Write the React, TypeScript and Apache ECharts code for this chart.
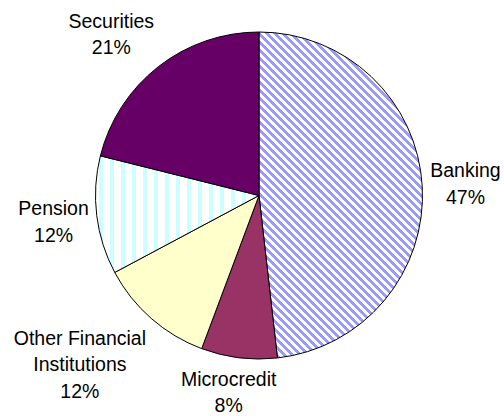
import React, { useEffect, useRef } from 'react';
import * as echarts from 'echarts';

const categories = ['Banking', 'Microcredit', 'Other Financial\nInstitutions', 'Pension', 'Securities'];
const shares = [48.2, 7.5, 11.5, 11.7, 21.1];
const percentLabels = ['47%', '8%', '12%', '12%', '21%'];

const CX = 259;
const CY = 195.5;
const R = 163.5;
const GAP = 8;
const CORNER_K = 1.6;

function makePattern(kind: 'diag' | 'vert'): HTMLCanvasElement {
  const c = document.createElement('canvas');
  const ctx = c.getContext('2d')!;
  if (kind === 'diag') {
    c.width = 8;
    c.height = 8;
    ctx.fillStyle = '#ffffff';
    ctx.fillRect(0, 0, 8, 8);
    ctx.fillStyle = '#9999FF';
    for (let y = 0; y < 8; y++) {
      for (let k = 0; k < 4; k++) {
        ctx.fillRect((y + k) % 8, y, 1, 1);
      }
    }
  } else {
    c.width = 11;
    c.height = 4;
    ctx.fillStyle = '#ffffff';
    ctx.fillRect(0, 0, 11, 4);
    ctx.fillStyle = '#CCFFFF';
    ctx.fillRect(0, 0, 4, 4);
  }
  return c;
}

const clamp1 = (v: number) => Math.max(-1, Math.min(1, v));

export default function App() {
  const ref = useRef<HTMLDivElement>(null);
  useEffect(() => {
    if (!ref.current) return;
    const chart = echarts.init(ref.current, undefined, { renderer: 'svg' });
    const diag = makePattern('diag');
    const vert = makePattern('vert');
    const fills: any[] = [
      { image: diag, repeat: 'repeat', imageWidth: 8, imageHeight: 8 },
      '#993366',
      '#FFFFCC',
      { image: vert, repeat: 'repeat', imageWidth: 11, imageHeight: 4 },
      '#660066',
    ];
    const total = shares.reduce((a, b) => a + b, 0);
    const midAngles: number[] = [];
    let acc = 0;
    shares.forEach((v) => {
      midAngles.push(((acc + v / 2) / total) * 2 * Math.PI);
      acc += v;
    });
    chart.setOption({
      animation: false,
      backgroundColor: '#ffffff',
      series: [
        {
          type: 'pie',
          center: [CX, CY],
          radius: R,
          startAngle: 90,
          clockwise: true,
          avoidLabelOverlap: false,
          emphasis: { disabled: true },
          itemStyle: { borderColor: '#000000', borderWidth: 1 },
          label: {
            show: true,
            position: 'outside',
            formatter: (p: any) => p.name + '\n' + percentLabels[p.dataIndex],
            fontFamily: "'Liberation Sans', Arial, sans-serif",
            fontSize: 19.5,
            lineHeight: 26.5,
            color: '#000000',
            align: 'center',
          },
          labelLine: { show: false },
          labelLayout: (params: any) => {
            const a = midAngles[params.dataIndex];
            const sx = Math.sin(a);
            const sy = -Math.cos(a);
            const w = params.labelRect.width;
            const h = params.labelRect.height;
            const d = R + GAP;
            const x = CX + sx * d + clamp1(sx * CORNER_K) * w / 2;
            const y = CY + sy * d + clamp1(sy * CORNER_K) * h / 2;
            return { x, y, align: 'center', verticalAlign: 'middle' };
          },
          data: categories.map((name, i) => ({
            name,
            value: shares[i],
            itemStyle: { color: fills[i] },
          })),
        },
      ],
    });
    return () => chart.dispose();
  }, []);
  return (
    <div
      ref={ref}
      style={{ position: 'fixed', left: 0, top: 0, width: 504, height: 416 }}
    />
  );
}
